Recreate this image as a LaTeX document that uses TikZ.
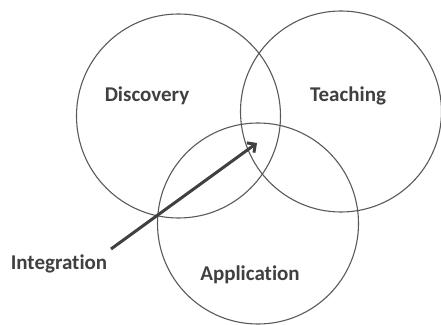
\documentclass[tikz,border=0pt]{standalone}
\usepackage{fontspec}
\setmainfont{Carlito}[RawFeature={-liga}]
\usetikzlibrary{arrows.meta}
\definecolor{circ}{HTML}{5A5A5A}
\definecolor{txt}{HTML}{404040}
\begin{document}
\begin{tikzpicture}[x=1pt,y=1pt,
  venn/.style={draw=circ,line width=1.1pt},
  lbl/.style={font=\bfseries\fontsize{21}{24}\selectfont,text=txt,inner sep=0pt}]
\useasboundingbox (0,0) rectangle (441,324);
\fill[white] (0,0) rectangle (441,324);
\node[venn,circle,minimum size=204pt,inner sep=0pt] (disc) at (178.5,208) {};
\node[venn,circle,minimum size=201pt,inner sep=0pt] (teach) at (341,212.5) {};
\node[venn,circle,minimum size=201pt,inner sep=0pt] (app) at (258,100.5) {};
\node[lbl] (dl) at (147,228) {Discovery};
\node[lbl] (tl) at (348,228) {Teaching};
\node[lbl] (al) at (250,49) {Application};
\node[lbl] (il) at (59,60) {Integration};
\coordinate (s) at (111,75);
\coordinate (e) at (257,181);
\draw[draw=txt,line width=3pt,-{Straight Barb[length=6pt,width=12pt]}] (s) -- (e);
\end{tikzpicture}
\end{document}
